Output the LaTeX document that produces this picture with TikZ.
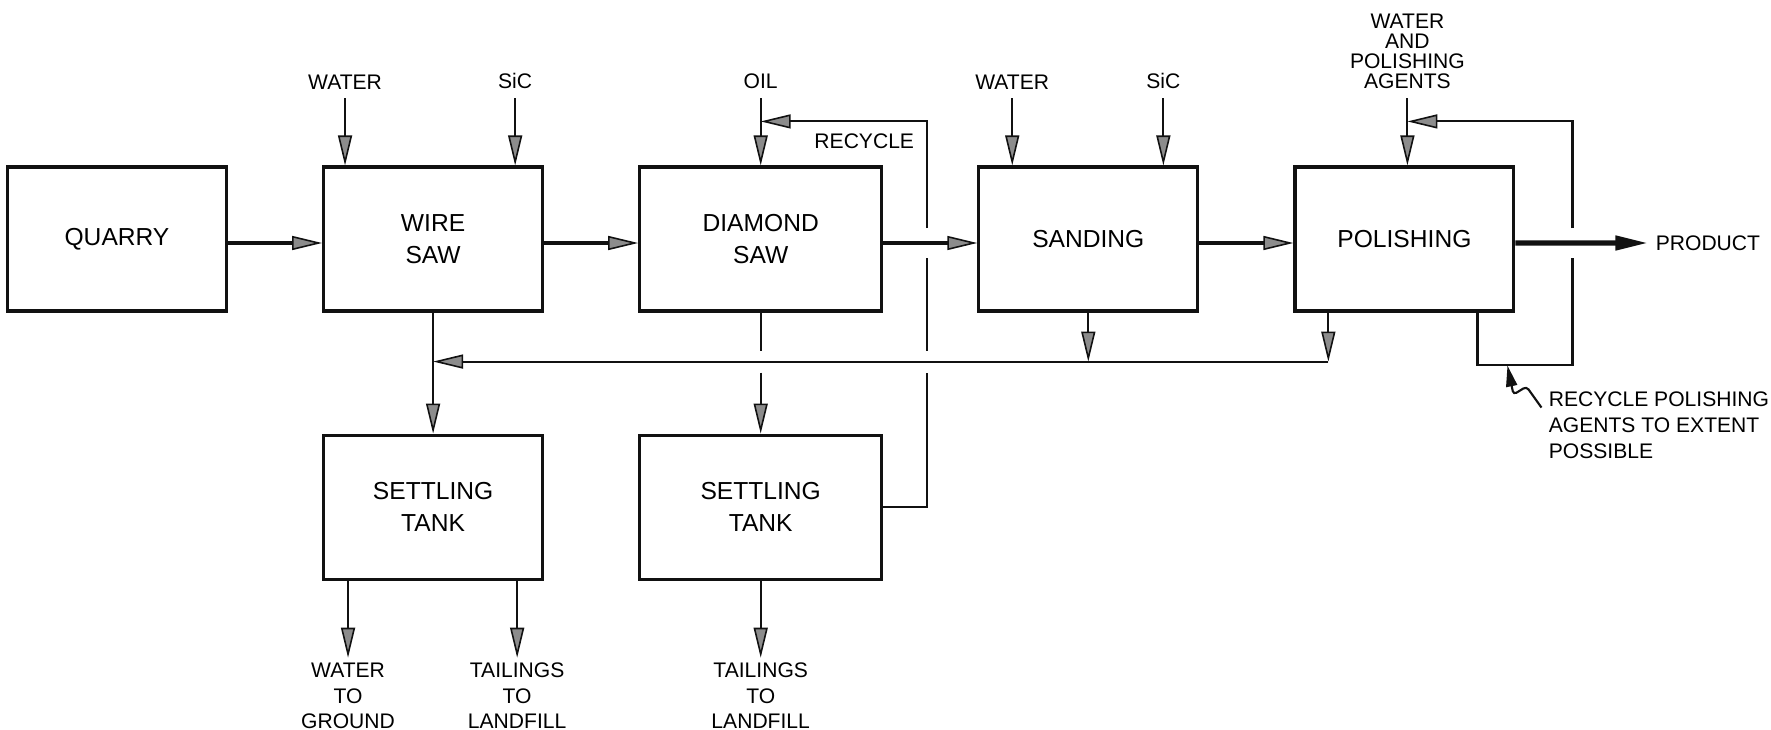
\documentclass[tikz,border=0pt]{standalone}
\usepackage{fontspec}
\setmainfont{Liberation Sans}
\usepackage{xcolor}
\usepackage{tikz}
\usetikzlibrary{arrows.meta,calc,positioning}
\definecolor{HeadGrey}{HTML}{8C8C8C}
\definecolor{InkBlack}{HTML}{111111}

\begin{document}
\begin{tikzpicture}[
  x=0.02cm, y=-0.02cm,
  node distance=1.88cm,
  unitbox/.style={
    draw=InkBlack,
    line width=1.8pt,
    align=center,
    minimum width=4.38cm,
    minimum height=2.88cm,
    inner sep=0pt,
    font=\fontsize{14}{18}\selectfont
  },
  widebox/.style={unitbox, minimum width=4.84cm},
  feedlabel/.style={align=center, inner sep=0pt, font=\fontsize{12}{14.5}\selectfont},
  notelabel/.style={feedlabel, align=left, font=\fontsize{12}{14.7}\selectfont},
  linkline/.style={draw=InkBlack, line width=1.2pt},
  feedarrow/.style={linkline, -{Triangle[length=0.6cm,width=0.28cm,fill=HeadGrey,line width=0.9pt]}},
  flowarrow/.style={feedarrow, line width=2.4pt},
  productarrow/.style={draw=InkBlack, line width=3pt, shorten >=0.18cm, -{Triangle[length=0.62cm,width=0.3cm,fill=InkBlack,line width=0.9pt]}},
  notearrow/.style={draw=InkBlack, line width=1.2pt, rounded corners=2pt, -{Triangle[length=0.42cm,width=0.22cm,fill=InkBlack]}}
]
\useasboundingbox (0,0) rectangle (1771,730);
\node[unitbox] (quarry) at (117,239) {QUARRY};
\node[unitbox, right=of quarry] (wiresaw) {WIRE\\SAW};
\node[widebox, right=of wiresaw] (diamondsaw) {DIAMOND\\SAW};
\node[unitbox, right=of diamondsaw] (sanding) {SANDING};
\node[unitbox, right=of sanding] (polishing) {POLISHING};
\node[unitbox, below=2.42cm of wiresaw] (tankA) {SETTLING\\TANK};
\node[widebox, below=2.42cm of diamondsaw] (tankB) {SETTLING\\TANK};
\coordinate (retR) at ($(polishing.south west)+(35,49)$);
\coordinate (dRecTop) at ($(diamondsaw.north east)+(44,-44)$);
\coordinate (dRecBot) at (dRecTop |- tankB.east);
\coordinate (pRecTop) at ($(polishing.north east)+(57,-44)$);
\coordinate (pRecLeft) at ($(polishing.south east)+(-38,52)$);
\coordinate (pRecBot) at (pRecTop |- pRecLeft);
\coordinate (noteTip) at ($(pRecLeft)+(30,1)$);
\node[feedlabel, anchor=south] (waterA) at ($(wiresaw.north west)+(23,-76)$) {WATER};
\node[feedlabel, anchor=south] (sicA) at ($(wiresaw.north east)+(-29,-76)$) {SiC};
\node[feedlabel, anchor=south] (oil) at ($(diamondsaw.north)+(0,-76)$) {OIL};
\node[feedlabel, anchor=south] (waterB) at ($(sanding.north west)+(35,-76)$) {WATER};
\node[feedlabel, anchor=south] (sicB) at ($(sanding.north east)+(-36,-76)$) {SiC};
\node[feedlabel, anchor=south, font=\fontsize{12}{11.5}\selectfont] (polishin) at ($(polishing.north)+(3,-76)$) {WATER\\AND\\POLISHING\\AGENTS};
\node[feedlabel] (recycletag) at ($(dRecTop)+(-63,20)$) {RECYCLE};
\node[feedlabel, anchor=west] (product) at ($(polishing.east)+(140,4)$) {PRODUCT};
\node[notelabel, anchor=north west] (note) at ($(pRecLeft)+(71,27)$) {RECYCLE POLISHING\\AGENTS TO EXTENT\\POSSIBLE};
\node[feedlabel, anchor=north] (waterOut) at ($(tankA.south west)+(26,82)$) {WATER\\TO\\GROUND};
\node[feedlabel, anchor=north] (tailA) at ($(tankA.south east)+(-27,82)$) {TAILINGS\\TO\\LANDFILL};
\node[feedlabel, anchor=north] (tailB) at ($(tankB.south)+(0,82)$) {TAILINGS\\TO\\LANDFILL};
\draw[flowarrow] ([yshift=-0.08cm]quarry.east) -- ([yshift=-0.08cm]wiresaw.west);
\draw[flowarrow] ([yshift=-0.08cm]wiresaw.east) -- ([yshift=-0.08cm]diamondsaw.west);
\draw[flowarrow] ([yshift=-0.08cm]diamondsaw.east) -- ([yshift=-0.08cm]sanding.west);
\draw[flowarrow] ([yshift=-0.08cm]sanding.east) -- ([yshift=-0.08cm]polishing.west);
\draw[productarrow] ([yshift=-0.08cm]polishing.east) -- (product.west);
\draw[feedarrow, shorten <=0.18cm] (waterA.south) -- (waterA.south |- wiresaw.north);
\draw[feedarrow, shorten <=0.18cm] (sicA.south) -- (sicA.south |- wiresaw.north);
\draw[feedarrow, shorten <=0.18cm] (oil.south) -- (oil.south |- diamondsaw.north);
\draw[feedarrow, shorten <=0.18cm] (waterB.south) -- (waterB.south |- sanding.north);
\draw[feedarrow, shorten <=0.18cm] (sicB.south) -- (sicB.south |- sanding.north);
\draw[feedarrow, shorten <=0.18cm] (polishin.south) -- (polishin.south |- polishing.north);
\draw[linkline] (tankB.east) -- (dRecBot) -- ($(dRecBot |- retR)+(0,11)$);
\draw[linkline] ($(dRecBot |- retR)+(0,-11)$) -- ($(dRecBot |- diamondsaw.east)+(0,19)$);
\draw[feedarrow] ($(dRecTop |- diamondsaw.east)+(0,-11)$) -- (dRecTop) -- (oil.south |- dRecTop);
\draw[feedarrow] (retR |- polishing.south) -- (retR);
\draw[feedarrow] (sanding.south) -- (sanding.south |- retR);
\draw[feedarrow] (retR) -- (wiresaw.south |- retR);
\draw[feedarrow] (wiresaw.south) -- (tankA.north);
\draw[linkline] (diamondsaw.south) -- ($(diamondsaw.south |- retR)+(0,-11)$);
\draw[feedarrow] ($(diamondsaw.south |- retR)+(0,11)$) -- (tankB.north);
\draw[linkline] (pRecLeft |- polishing.south) -- (pRecLeft) -- (pRecBot) -- ($(pRecBot |- polishing.east)+(0,19)$);
\draw[feedarrow] ($(pRecTop |- polishing.east)+(0,-11)$) -- (pRecTop) -- (polishin.south |- pRecTop);
\draw[notearrow] ($(note.north west)+(-7,16)$) -- ++(-15,-21) -- ++(-13,8) -- (noteTip);
\draw[feedarrow, shorten >=0.1cm] (waterOut.north |- tankA.south) -- (waterOut.north);
\draw[feedarrow, shorten >=0.1cm] (tailA.north |- tankA.south) -- (tailA.north);
\draw[feedarrow, shorten >=0.1cm] (tailB.north |- tankB.south) -- (tailB.north);
\end{tikzpicture}
\end{document}
